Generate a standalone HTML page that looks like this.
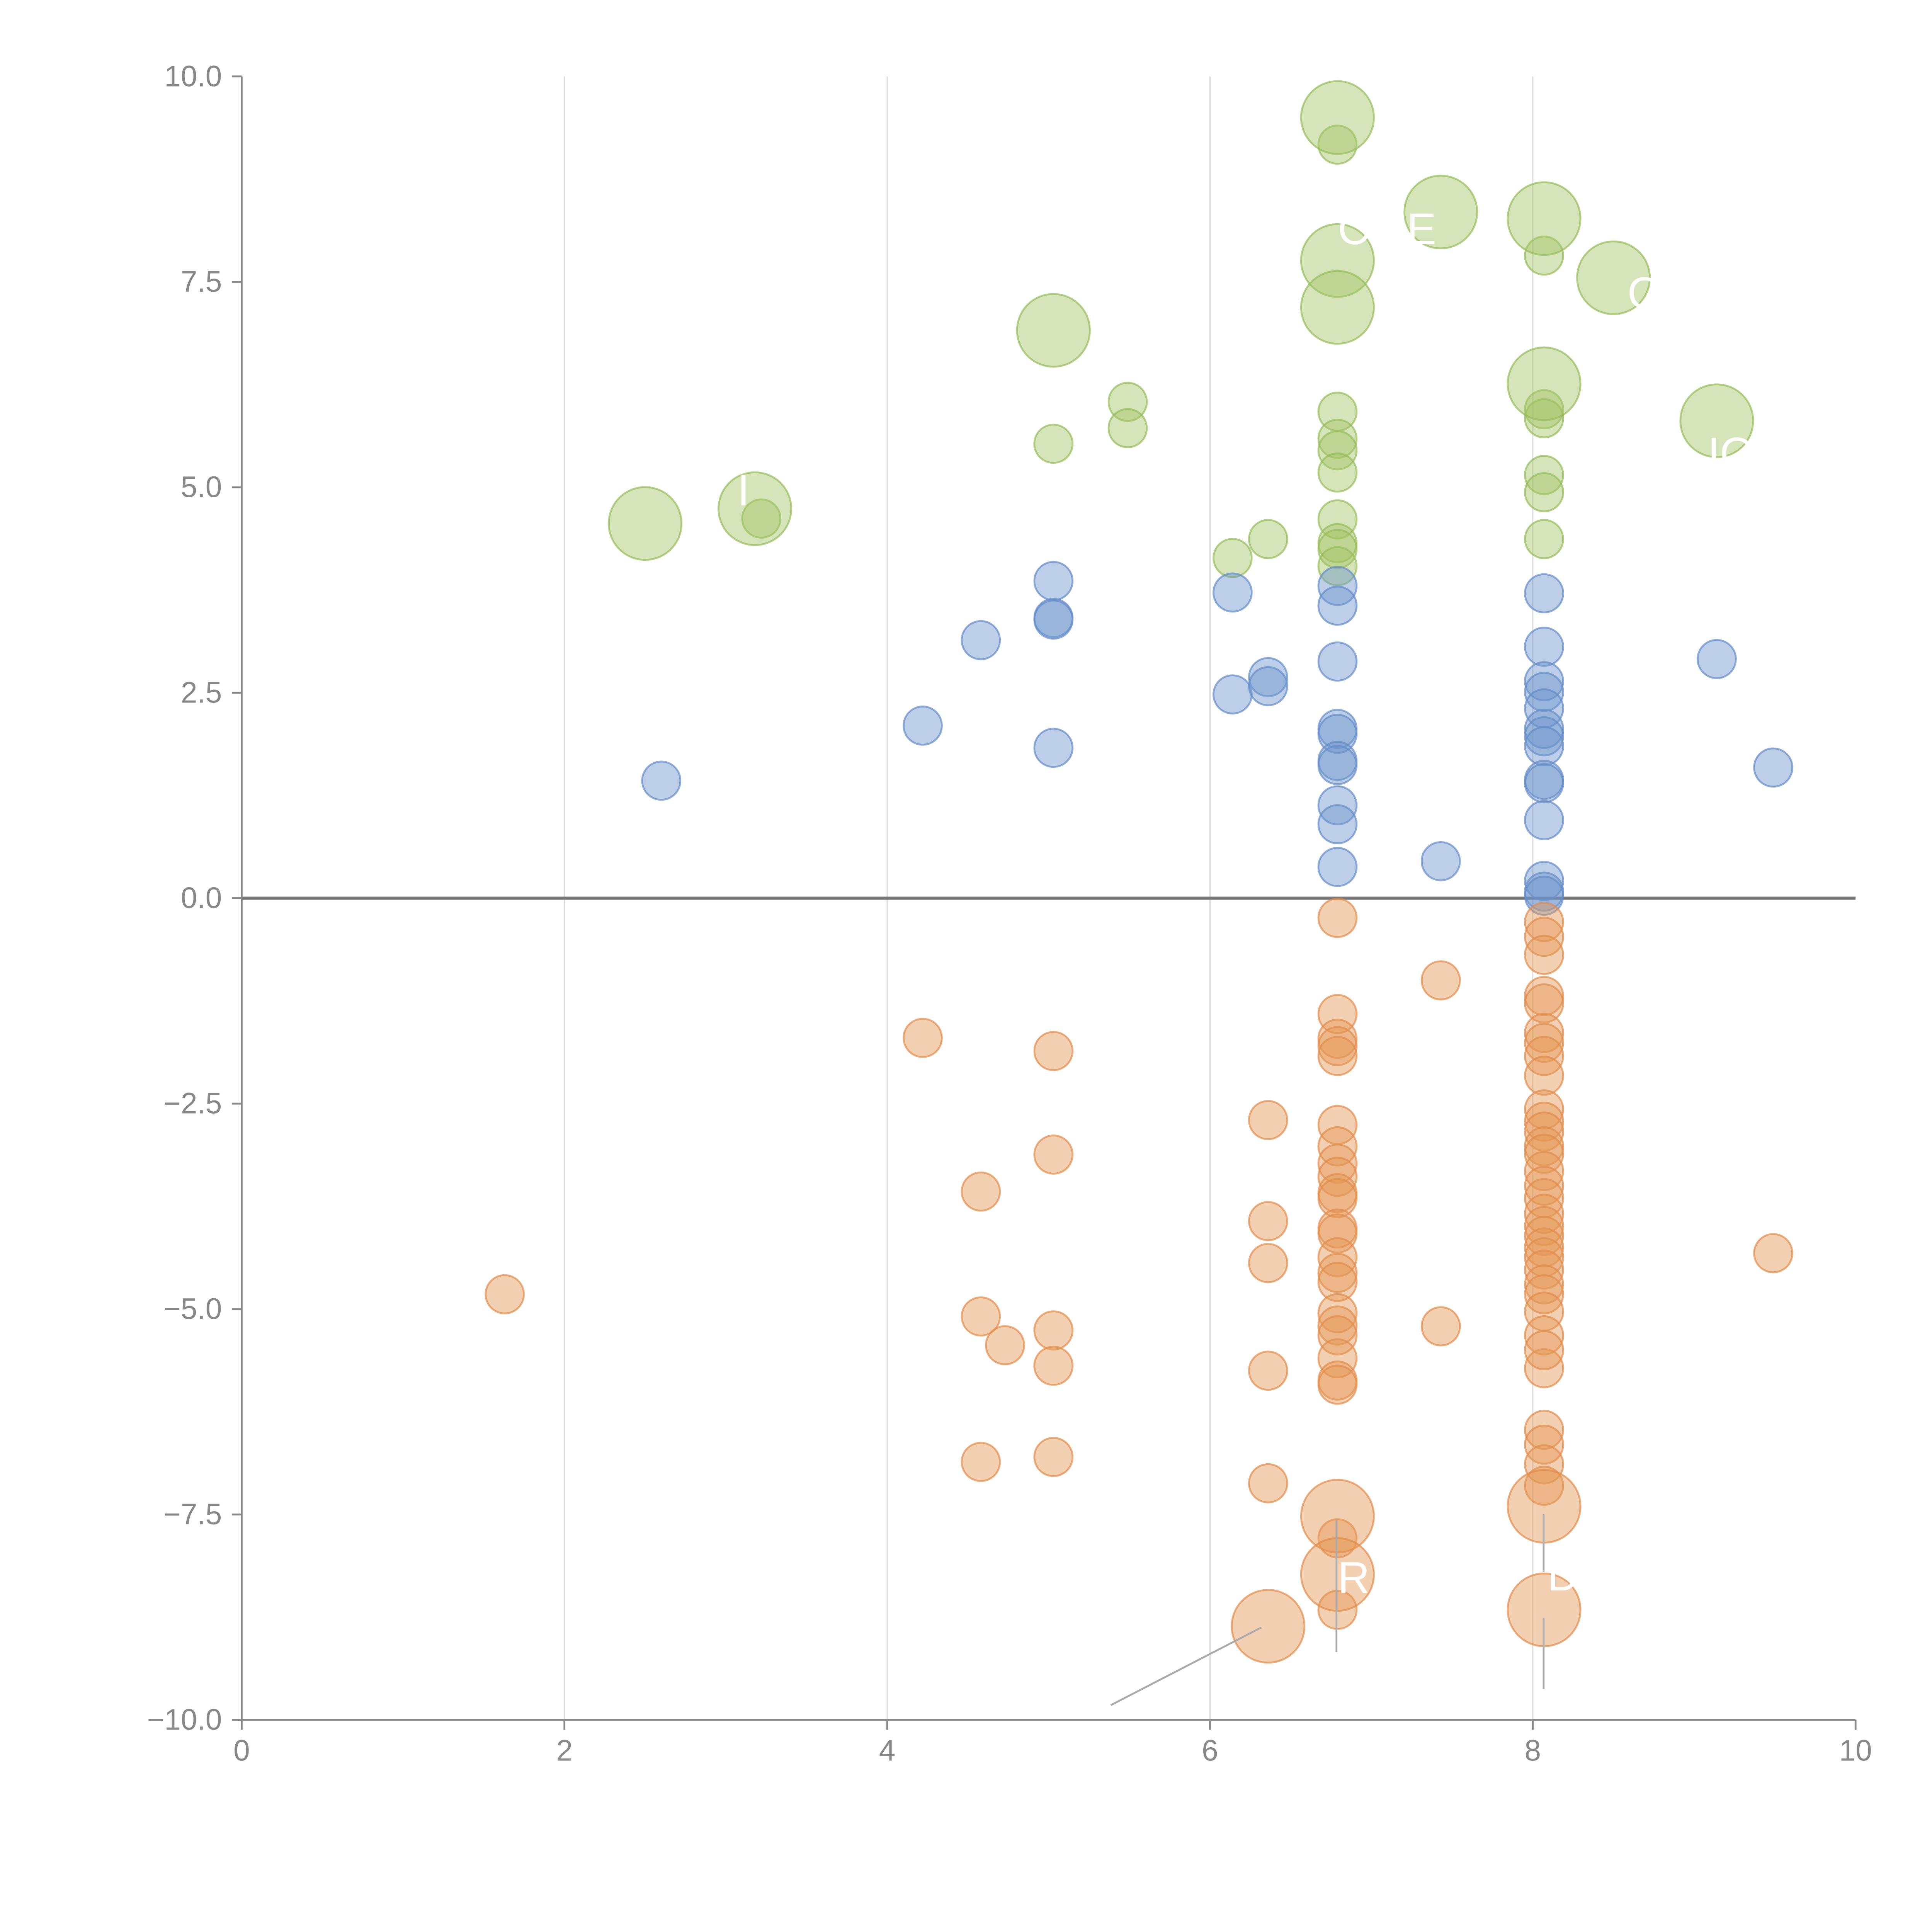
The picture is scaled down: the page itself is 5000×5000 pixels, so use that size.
<!DOCTYPE html>
<html><head><meta charset="utf-8"><style>
html,body{margin:0;padding:0;background:#fff}
svg{display:block}
text{font-family:"Liberation Sans",sans-serif}
</style></head><body>
<svg id="chart" width="5000" height="5000" viewBox="0 0 1567 1567" xmlns="http://www.w3.org/2000/svg">
<g id="grid"></g>
<g id="axes"></g>
<g id="marks"></g>
<g id="annos"></g>
</svg>
<script>
const xTicks=[0,2,4,6,8,10];
const yTicks=[-10,-7.5,-5,-2.5,0,2.5,5,7.5,10];
const yTickLabels=["\u221210.0","\u22127.5","\u22125.0","\u22122.5","0.0","2.5","5.0","7.5","10.0"];
const greenX=[6.79,8.07,5.49,5.49,5.03,6.79,6.79,6.79,6.79,6.79,6.79,6.79,6.79,6.36,6.14,8.07,8.07,8.07,8.07,8.07,3.22,
 6.79,7.43,8.07,6.79,6.79,8.5,5.03,8.07,9.14,2.5,3.18];
const greenY=[9.17,7.82,6.04,5.72,5.53,5.92,5.59,5.45,5.18,4.61,4.32,4.25,4.04,4.37,4.14,5.95,5.84,5.15,4.94,4.37,4.62,
 9.5,8.35,8.27,7.76,7.19,7.55,6.91,6.26,5.81,4.56,4.74];
const greenBig=[0,0,0,0,0,0,0,0,0,0,0,0,0,0,0,0,0,0,0,0,0,1,1,1,1,1,1,1,1,1,1,1];
const blueX=[2.6,4.22,4.58,5.03,5.03,5.03,5.03,6.14,6.14,6.36,6.36,6.79,6.79,6.79,6.79,6.79,6.79,6.79,6.79,6.79,6.79,7.43,
 8.07,8.07,8.07,8.07,8.07,8.07,8.07,8.07,8.07,8.07,8.07,8.07,8.07,8.07,9.14,9.49];
const blueY=[1.43,2.1,3.14,3.86,3.41,3.39,1.83,3.72,2.48,2.69,2.58,3.8,3.56,2.88,2.06,2.0,1.67,1.62,1.13,0.9,0.38,0.45,
 3.71,3.06,2.64,2.51,2.31,2.06,1.97,1.85,1.44,1.4,0.95,0.21,0.08,0.03,2.91,1.59];
const orangeX=[1.63,4.22,4.58,4.58,4.73,4.58,5.03,5.03,5.03,5.03,5.03,6.36,6.36,6.36,6.36,6.36,
 6.79,6.79,6.79,6.79,6.79,6.79,6.79,6.79,6.79,6.79,6.79,6.79,6.79,6.79,6.79,6.79,6.79,6.79,6.79,6.79,6.79,6.79,6.79,6.79,
 7.43,7.43,
 8.07,8.07,8.07,8.07,8.07,8.07,8.07,8.07,8.07,8.07,8.07,8.07,8.07,8.07,8.07,8.07,8.07,8.07,8.07,8.07,8.07,8.07,8.07,8.07,8.07,8.07,8.07,8.07,8.07,8.07,8.07,8.07,8.07,
 9.49,
 6.79,6.79,6.36,8.07,8.07];
const orangeY=[-4.82,-1.7,-3.57,-5.09,-5.44,-6.86,-1.86,-3.12,-5.26,-5.69,-6.8,-2.7,-3.93,-4.44,-5.75,-7.12,
 -0.24,-1.41,-1.71,-1.8,-1.92,-2.76,-3.02,-3.23,-3.39,-3.59,-3.65,-4.02,-4.08,-4.37,-4.56,-4.67,-5.05,-5.2,-5.32,-5.6,-5.87,-5.92,-7.79,-8.66,
 -1.0,-5.21,
 -0.29,-0.47,-0.69,-1.19,-1.28,-1.64,-1.76,-1.92,-2.16,-2.57,-2.72,-2.84,-3.02,-3.11,-3.32,-3.5,-3.65,-3.84,-3.99,-4.11,-4.25,-4.37,-4.52,-4.7,-4.82,-5.03,-5.32,-5.72,-6.47,-6.65,-6.89,-7.15,-5.5,
 -4.32,
 -7.52,-8.23,-8.86,-7.4,-8.66];
const orangeBig=orangeY.map((v,i)=>i>=orangeY.length-5?1:0);
const blueBig=blueY.map(()=>0);

const L=196,R=1505,T=62,B=1395;
function sx(v){return L+(v-0)/(10-0)*(R-L);}
function sy(v){return B-(v+10)/20*(B-T);}
const NS="http://www.w3.org/2000/svg";
function mk(tag,attrs,parent){const e=document.createElementNS(NS,tag);for(const k in attrs)e.setAttribute(k,attrs[k]);parent.appendChild(e);return e;}
const grid=document.getElementById('grid'),axes=document.getElementById('axes'),marks=document.getElementById('marks'),annos=document.getElementById('annos');

xTicks.forEach((t,i)=>{
  if(t>0&&t<10){const g=mk('line',{x1:sx(t),x2:sx(t),y1:T,y2:B,stroke:'#dcdcdc','stroke-width':1},grid);
  
  }
  const tk=mk('line',{x1:sx(t),x2:sx(t),y1:B,y2:B+8,stroke:'#888','stroke-width':1.5},axes);
  
  
  const tx=mk('text',{x:sx(t),y:B+33,'text-anchor':'middle','font-size':24,fill:'#888'},axes);
  tx.textContent=String(t);
  
  
});
yTicks.forEach((t,i)=>{
  const tk=mk('line',{x1:L-8,x2:L,y1:sy(t),y2:sy(t),stroke:'#888','stroke-width':1.5},axes);
  
  
  const tx=mk('text',{x:L-16,y:sy(t)+8,'text-anchor':'end','font-size':24,fill:'#888'},axes);
  tx.textContent=yTickLabels[i];
  
  
});
const ya=mk('line',{x1:L,x2:L,y1:T,y2:B,stroke:'#888','stroke-width':1.5},axes);


const xa=mk('line',{x1:L,x2:R,y1:B,y2:B,stroke:'#888','stroke-width':1.5},axes);



function series(xs,ys,big,fill,stroke,name){
  xs.forEach((x,i)=>{
    const c=mk('circle',{cx:sx(x),cy:sy(ys[i]),r:big[i]?29.5:15.5,fill:fill,stroke:stroke,'stroke-width':1.5},marks);
    
    
  });
}
series(greenX,greenY,greenBig,'rgba(163,196,102,0.45)','rgba(150,188,90,0.7)','green-bubble');
series(blueX,blueY,blueBig,'rgba(108,148,204,0.45)','rgba(100,140,200,0.7)','blue-bubble');
series(orangeX,orangeY,orangeBig,'rgba(229,150,85,0.45)','rgba(225,140,75,0.7)','orange-bubble');

const zl=mk('line',{x1:L,x2:R,y1:sy(0),y2:sy(0),stroke:'#777','stroke-width':2.5},axes);



[[901,1383,1023,1320],[1084,1233,1084,1340],[1252,1228,1252,1275],[1252,1312,1252,1370]].forEach(s=>{
  const l=mk('line',{x1:s[0],y1:s[1],x2:s[2],y2:s[3],stroke:'#aaa','stroke-width':1.5},annos);
  
  
});
[[1085,198,'CME'],[1320,250,'O'],[1085,1292,'R'],[1255,1290,'D'],[1385,380,'IO'],[598,410,'I']].forEach(a=>{
  const t=mk('text',{x:a[0],y:a[1],'font-size':36,fill:'#fff'},annos);
  t.textContent=a[2];
  
  
});
</script>
</body></html>
